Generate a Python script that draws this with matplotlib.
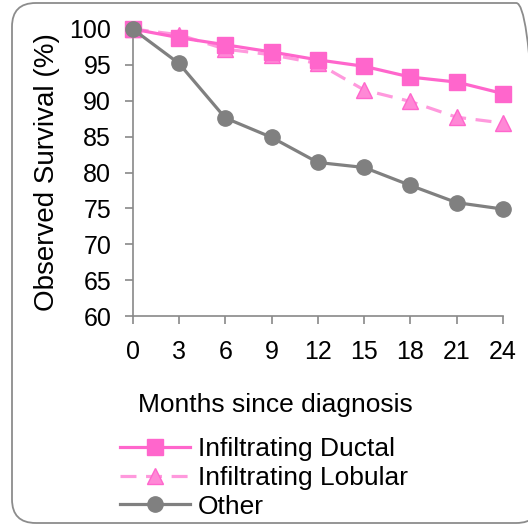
import matplotlib
matplotlib.use("Agg")
from matplotlib import pyplot as plt
from matplotlib.patches import FancyBboxPatch

plt.rcParams['font.family'] = ['Liberation Sans', 'DejaVu Sans']

# survival by histology, months since diagnosis
months = [0, 3, 6, 9, 12, 15, 18, 21, 24]
ductal = [100, 98.8, 97.8, 96.8, 95.7, 94.8, 93.3, 92.6, 91.0]
lobular = [100, 99.2, 97.2, 96.4, 95.2, 91.5, 89.9, 87.7, 86.9]
other = [100, 95.2, 87.6, 84.9, 81.4, 80.7, 78.2, 75.8, 74.9]
labels = ['Infiltrating Ductal', 'Infiltrating Lobular', 'Other']

W, H = 528, 526
fig = plt.figure(figsize=(W / 100, H / 100), dpi=100)

# rounded chart border
frame = FancyBboxPatch((12 / W, 3 / H), (540 - 12) / W, (523 - 3) / H,
                       boxstyle="round,pad=0,rounding_size=0.045",
                       transform=fig.transFigure, fc='none', ec='#8c8c8c',
                       lw=1.3, clip_on=False)
fig.patches.append(frame)

ax = fig.add_axes([132.7 / W, 1 - 316 / H, (503 - 132.7) / W, (316 - 29) / H])

pink = '#ff66cc'
grey = '#808080'
l1, = ax.plot(months, ductal, color=pink, lw=2.3, marker='s', ms=11,
              clip_on=False, zorder=3)
l2, = ax.plot(months, lobular, color='#ff99dd', lw=2.3, ls=(0, (5, 3)),
              marker='^', ms=11, mfc='#ff88d6', mec='#ff66cc',
              clip_on=False, zorder=2)
l3, = ax.plot(months, other, color=grey, lw=2.3, marker='o', ms=11,
              clip_on=False, zorder=4)

ax.set_xlim(0, 24)
ax.set_ylim(60, 100)
ax.set_xticks(months)
ax.set_yticks(range(60, 101, 5))
for s in ['top', 'right']:
    ax.spines[s].set_visible(False)
for s in ['left', 'bottom']:
    ax.spines[s].set_color('#898989')
    ax.spines[s].set_linewidth(1.2)
ax.tick_params(axis='both', direction='out', length=5.5, width=1.2,
               color='#898989', labelsize=18)
ax.tick_params(axis='x', pad=12)
ax.tick_params(axis='y', pad=10)

ax.set_ylabel('Observed Survival (%)', fontsize=20, labelpad=7)
fig.text(275 / W, 1 - 405 / H, 'Months since diagnosis', fontsize=19,
         ha='center', va='center')

fig.legend([l1, l2, l3], labels, loc='upper left',
           bbox_to_anchor=(120 / W, 1 - 437 / H), frameon=False,
           fontsize=19, handlelength=2.65, handletextpad=0.3,
           labelspacing=0.18, borderpad=0, borderaxespad=0)

fig.savefig('out.png', dpi=100)
